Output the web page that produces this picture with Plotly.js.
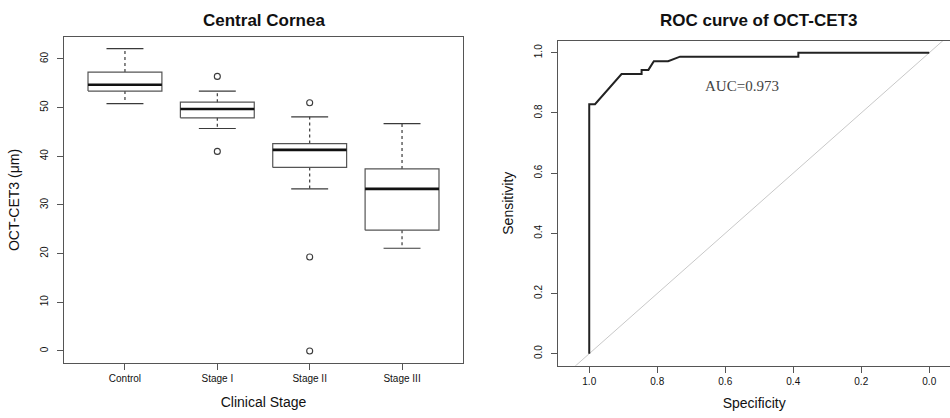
<!DOCTYPE html>
<html>
<head>
<meta charset="utf-8">
<script src="https://cdn.plot.ly/plotly-3.0.1.min.js"></script>
<style>html,body{margin:0;padding:0;background:#fff;}#chart{width:950px;height:418px;}</style>
</head>
<body>
<div id="chart"></div>
<script>
// ---- Box plot data (Central Cornea, OCT-CET3 in µm) ----
const stages = ["Control", "Stage I", "Stage II", "Stage III"];
const lowerWhisker = [50.8, 45.7, 33.3, 21.1];
const q1Values = [53.4, 47.9, 37.7, 24.8];
const medianValues = [54.7, 49.7, 41.3, 33.3];
const q3Values = [57.3, 51.1, 42.6, 37.4];
const upperWhisker = [62.1, 53.4, 48.1, 46.7];
const outlierStage = ["Stage I", "Stage I", "Stage II", "Stage II", "Stage II"];
const outlierValues = [56.4, 41.0, 51.0, 19.3, 0.0];

// ---- ROC curve data ----
const specificity = [1, 1, 0.983, 0.905, 0.846, 0.846, 0.826, 0.810, 0.768, 0.733, 0.385, 0.385, 0];
const sensitivity = [0, 0.829, 0.829, 0.929, 0.929, 0.943, 0.943, 0.972, 0.972, 0.987, 0.987, 1.0, 1.0];
const diagSpec = [1.2, -0.2];
const diagSens = [-0.2, 1.2];
const aucLabel = "AUC=0.973";

// ---- build box plot traces on a numeric axis (positions 1..n) ----
const HW = 0.4, CAP = 0.2;
const boxX = [], boxY = [], medX = [], medY = [], whX = [], whY = [], capX = [], capY = [];
stages.forEach((s, i) => {
  const p = i + 1;
  boxX.push(p - HW, p + HW, p + HW, p - HW, p - HW, null);
  boxY.push(q1Values[i], q1Values[i], q3Values[i], q3Values[i], q1Values[i], null);
  medX.push(p - HW, p + HW, null);
  medY.push(medianValues[i], medianValues[i], null);
  whX.push(p, p, null, p, p, null);
  whY.push(q3Values[i], upperWhisker[i], null, q1Values[i], lowerWhisker[i], null);
  capX.push(p - CAP, p + CAP, null, p - CAP, p + CAP, null);
  capY.push(upperWhisker[i], upperWhisker[i], null, lowerWhisker[i], lowerWhisker[i], null);
});
const outX = outlierStage.map(s => stages.indexOf(s) + 1);

const dark = "#3a3a3a";
const traces = [
  {x: whX, y: whY, mode: "lines", line: {color: dark, width: 1.2, dash: "dot"}, xaxis: "x", yaxis: "y", hoverinfo: "skip"},
  {x: capX, y: capY, mode: "lines", line: {color: dark, width: 1.2}, xaxis: "x", yaxis: "y", hoverinfo: "skip"},
  {x: boxX, y: boxY, mode: "lines", line: {color: "#555", width: 1.2}, fill: "none", xaxis: "x", yaxis: "y", hoverinfo: "skip"},
  {x: medX, y: medY, mode: "lines", line: {color: "#111", width: 2.6}, xaxis: "x", yaxis: "y"},
  {x: outX, y: outlierValues, mode: "markers", marker: {symbol: "circle-open", size: 6, color: dark, line: {width: 1.1}}, xaxis: "x", yaxis: "y"},
  {x: diagSpec, y: diagSens, mode: "lines", line: {color: "#c8c8c8", width: 1}, xaxis: "x2", yaxis: "y2", hoverinfo: "skip"},
  {x: specificity, y: sensitivity, mode: "lines", line: {color: "#222", width: 2}, xaxis: "x2", yaxis: "y2"}
];

const font = "Liberation Sans, Arial, sans-serif";
const axisCommon = {
  showline: true, linecolor: "#555", linewidth: 1, ticks: "outside", ticklen: 6, tickcolor: "#555",
  showgrid: false, zeroline: false, tickfont: {family: font, size: 10, color: "#111"}
};
const titleFont = {family: font, size: 14, color: "#111"};

const layout = {
  width: 950, height: 418,
  margin: {l: 0, r: 0, t: 0, b: 0},
  paper_bgcolor: "#fff", plot_bgcolor: "#fff",
  showlegend: false,
  font: {family: font, color: "#222"},
  xaxis: Object.assign({}, axisCommon, {
    domain: [64/950, 463/950], range: [0.34, 4.66], mirror: true,
    tickvals: stages.map((s, i) => i + 1), ticktext: stages,
    title: {text: "Clinical Stage", font: titleFont, standoff: 14}
  }),
  yaxis: Object.assign({}, axisCommon, {
    domain: [(418-363)/418, (418-37)/418], range: [-2.48, 64.5], mirror: true,
    tickvals: [0, 10, 20, 30, 40, 50, 60], tickangle: -90, ticklabelstandoff: 5,
    title: {text: "OCT-CET3 (μm)", font: titleFont, standoff: 16}
  }),
  xaxis2: Object.assign({}, axisCommon, {
    anchor: "y2",
    domain: [558.3/950, 1], range: [1.091, -0.061], mirror: true,
    tickvals: [1, 0.8, 0.6, 0.4, 0.2, 0], ticktext: ["1.0", "0.8", "0.6", "0.4", "0.2", "0.0"],
    title: {text: "Specificity", font: titleFont, standoff: 12}
  }),
  yaxis2: Object.assign({}, axisCommon, {
    anchor: "x2",
    domain: [(418-365.7)/418, (418-40.7)/418], range: [-0.04, 1.04], mirror: false,
    tickvals: [0, 0.2, 0.4, 0.6, 0.8, 1.0], ticktext: ["0.0", "0.2", "0.4", "0.6", "0.8", "1.0"], tickangle: -90, ticklabelstandoff: 5,
    title: {text: "Sensitivity", font: titleFont, standoff: 16}
  }),
  annotations: [
    {text: "<b>Central Cornea</b>", xref: "paper", yref: "paper", x: 263.5/950, y: (418-20)/418, showarrow: false,
     xanchor: "center", yanchor: "middle", font: {family: font, size: 17, color: "#111"}},
    {text: "<b>ROC curve of OCT-CET3</b>", xref: "paper", yref: "paper", x: 758/950, y: (418-20)/418, showarrow: false,
     xanchor: "center", yanchor: "middle", font: {family: font, size: 17, color: "#111"}},
    {text: aucLabel, xref: "x2", yref: "y2", x: 0.552, y: 0.889, showarrow: false,
     xanchor: "center", yanchor: "middle", font: {family: "Liberation Serif, Times New Roman, serif", size: 15, color: "#444"}}
  ]
};

Plotly.newPlot("chart", traces, layout, {staticPlot: true, displayModeBar: false});
</script>
</body>
</html>
